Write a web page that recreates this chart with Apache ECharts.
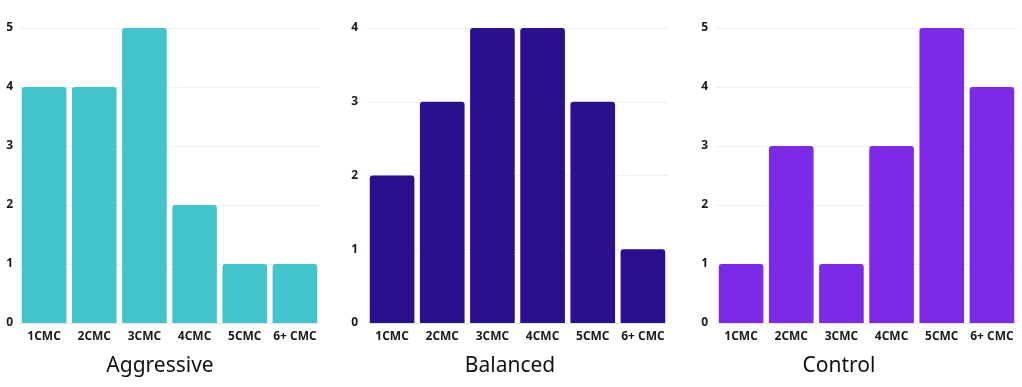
<!DOCTYPE html>
<html><head><meta charset="utf-8">
<script src="https://cdn.jsdelivr.net/npm/echarts@6/dist/echarts.min.js"></script>
<style>html,body{margin:0;padding:0;background:#fff}#c{width:1022px;height:387px}</style>
</head><body><div id="c"></div>
<script>
const categories = ['1CMC','2CMC','3CMC','4CMC','5CMC','6+ CMC'];
const aggressive = [4,4,5,2,1,1];
const balanced = [2,3,4,4,3,1];
const control = [1,3,1,3,5,4];
const titles = ['Aggressive','Balanced','Control'];
const yMaxes = [5,4,5];
const colors = ['#42C4CC','#2A0F8E','#7D2AE8'];
const seriesData = [aggressive, balanced, control];
const lefts = [19, 367, 716];
const titleCenters = [160, 510, 839];
const yMargins = [6, 9, 8];
const W = 301;

const chart = echarts.init(document.getElementById('c'));
const grid = lefts.map(l => ({left:l, top:28, width:W, height:295}));
const xAxis = lefts.map((l,i) => ({
  type:'category', gridIndex:i, data:categories,
  axisLine:{show:true, lineStyle:{color:'#e6e6e6'}},
  axisTick:{show:false},
  axisLabel:{color:'#1a1a1a', fontFamily:'Open Sans', fontWeight:'bold', fontSize:12, margin:8, interval:0}
}));
const yAxis = lefts.map((l,i) => ({
  type:'value', gridIndex:i, min:0, max:yMaxes[i], interval:1,
  axisLine:{show:false}, axisTick:{show:false},
  splitLine:{lineStyle:{color:'#efefef'}},
  axisLabel:{color:'#1a1a1a', fontFamily:'Open Sans', fontWeight:'bold', fontSize:12, margin:yMargins[i]}
}));
const series = seriesData.map((d,i) => ({
  type:'bar', xAxisIndex:i, yAxisIndex:i, data:d, barCategoryGap:'11%',
  itemStyle:{color:colors[i], borderRadius:[3,3,0,0]}
}));
const graphic = titles.map((t,i) => ({
  type:'text', x: titleCenters[i], y: 366,
  style:{text:t, align:'center', verticalAlign:'middle', fontFamily:'Noto Sans', fontWeight:'normal', fontSize:21, fill:'#111'}
}));
chart.setOption({animation:false, graphic, grid, xAxis, yAxis, series});
</script></body></html>
